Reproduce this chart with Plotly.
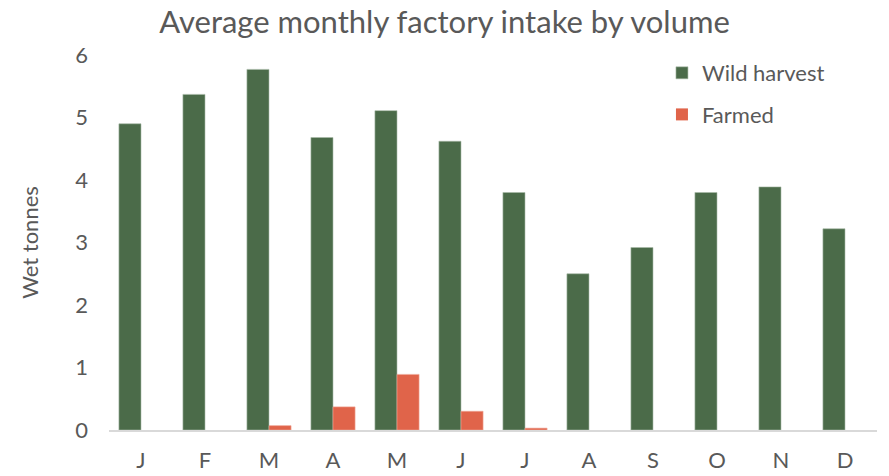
import plotly.graph_objects as go

months = ["J", "F", "M", "A", "M", "J", "J", "A", "S", "O", "N", "D"]
wild_harvest = [4.90, 5.37, 5.77, 4.68, 5.11, 4.62, 3.80, 2.50, 2.92, 3.80, 3.89, 3.22]
farmed = [0, 0, 0.07, 0.37, 0.89, 0.30, 0.03, 0, 0, 0, 0, 0]

x = list(range(len(months)))

def edge_widths(values):
    return [0.6 if v > 0 else 0 for v in values]

fig = go.Figure()
fig.add_trace(go.Bar(x=x, y=wild_harvest, name="Wild harvest",
                     marker=dict(color="#4B6B49",
                                 line=dict(color="#a9bba8", width=edge_widths(wild_harvest))),
                     legendgroup="a"))
fig.add_trace(go.Bar(x=x, y=farmed, name="Farmed",
                     marker=dict(color="#E0644A",
                                 line=dict(color="#f0a898", width=edge_widths(farmed))),
                     legendgroup="b"))

fig.update_layout(
    width=889, height=476,
    margin=dict(l=109, r=12, t=55, b=46),
    paper_bgcolor="white", plot_bgcolor="white",
    barmode="group", bargap=0.31, bargroupgap=0,
    font=dict(family="Lato", color="#595959"),
    title=dict(text="Average monthly factory intake by volume", x=0.5, xref="container",
               xanchor="center", y=1 - 22 / 476, yanchor="middle",
               font=dict(size=31, color="#595959")),
    xaxis=dict(tickmode="array", tickvals=x, ticktext=months, range=[-0.5, 11.5],
               showline=True, linecolor="#d9d9d9", linewidth=1.5, ticks="",
               tickfont=dict(size=22), ticklabelstandoff=10, showgrid=False,
               automargin=False),
    yaxis=dict(range=[0, 6], dtick=1, showgrid=False, zeroline=False, ticks="",
               tickfont=dict(size=22), ticklabelstandoff=20, automargin=False,
               title=dict(text="Wet tonnes", font=dict(size=22), standoff=30)),
    legend=dict(x=0.72, y=1.008, xanchor="left", yanchor="top",
                font=dict(size=22), tracegroupgap=10, traceorder="grouped",
                bgcolor="rgba(0,0,0,0)"),
)

fig.write_html("out.html", config={"displayModeBar": False},
               post_script="document.body.style.margin='0';document.body.style.padding='0';")
